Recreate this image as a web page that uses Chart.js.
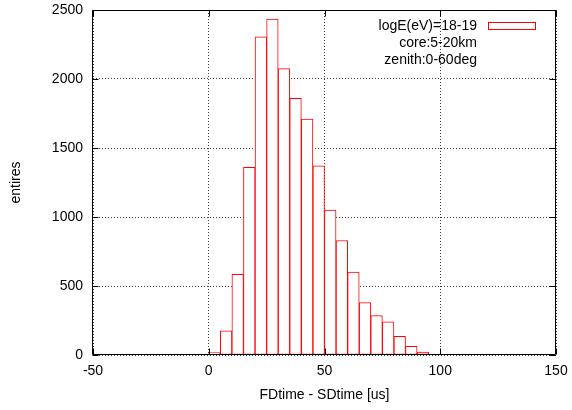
<!DOCTYPE html>
<html>
<head>
<meta charset="utf-8">
<script src="https://cdn.jsdelivr.net/npm/chart.js@4"></script>
<style>
  html, body { margin: 0; padding: 0; background: #fff; }
  canvas { display: block; }
</style>
</head>
<body>
<canvas id="histChart" width="572" height="410"></canvas>
<script>
// Histogram bins: centre of each 5 us wide bin, and the entries in it
const binCenters = [-2.5, 2.5, 7.5, 12.5, 17.5, 22.5, 27.5, 32.5, 37.5, 42.5, 47.5,
                    52.5, 57.5, 62.5, 67.5, 72.5, 77.5, 82.5, 87.5, 92.5, 97.5];
const entries = [5, 17, 175, 585, 1360, 2305, 2435, 2075, 1860, 1710, 1370,
                 1050, 830, 600, 380, 285, 240, 135, 63, 22, 4];

// Axis ticks
const xTicks = [-50, 0, 50, 100, 150];
const yTicks = [0, 500, 1000, 1500, 2000, 2500];

// Key text
const seriesLabel = 'logE(eV)=18-19';
const keyNotes = ['core:5-20km', 'zenith:0-60deg'];

const FONT = { family: '"Liberation Sans", Arial, sans-serif', size: 14 };

// Draw the gnuplot style frame, inward tick marks and the key
const framePlugin = {
    id: 'frame',
    afterDraw(chart) {
        const ctx = chart.ctx;
        const a = chart.chartArea;
        const xs = chart.scales.x;
        const ys = chart.scales.y;
        const L = Math.round(a.left) - 0.5, R = Math.round(a.right) - 0.5;
        const T = Math.round(a.top) + 0.5, B = Math.round(a.bottom) - 0.5;
        const tick = 6;

        ctx.save();
        ctx.strokeStyle = '#000';
        ctx.lineWidth = 1;
        ctx.beginPath();
        ctx.rect(L, T, R - L, B - T);

        xTicks.forEach(v => {
            const px = Math.round(xs.getPixelForValue(v)) + 0.5;
            ctx.moveTo(px, B); ctx.lineTo(px, B - tick);
            ctx.moveTo(px, T); ctx.lineTo(px, T + tick);
        });
        yTicks.forEach(v => {
            const py = Math.round(ys.getPixelForValue(v)) + 0.5;
            ctx.moveTo(L, py); ctx.lineTo(L + tick, py);
            ctx.moveTo(R, py); ctx.lineTo(R - tick, py);
        });
        ctx.stroke();

        // Key: right aligned text with an outlined sample box
        ctx.font = FONT.size + 'px ' + FONT.family;
        ctx.fillStyle = '#000';
        ctx.textAlign = 'right';
        ctx.textBaseline = 'middle';
        const lines = [chart.data.datasets[0].label].concat(keyNotes);
        lines.forEach((t, i) => ctx.fillText(t, 477, 26 + i * 17));

        ctx.strokeStyle = '#ff0000';
        ctx.strokeRect(488.5, 22.5, 47, 7);
        ctx.restore();
    }
};

const ctx = document.getElementById('histChart').getContext('2d');

new Chart(ctx, {
    type: 'bar',
    data: {
        datasets: [{
            label: seriesLabel,
            data: binCenters.map((x, i) => ({ x: x, y: entries[i] })),
            backgroundColor: '#ffffff',
            borderColor: '#ff0000',
            borderWidth: 1,
            borderSkipped: false,
            barPercentage: 1.0,
            categoryPercentage: 1.0
        }]
    },
    options: {
        responsive: false,
        animation: false,
        devicePixelRatio: 1,
        layout: { padding: { top: 10, right: 16, left: 0, bottom: 0 } },
        scales: {
            x: {
                type: 'linear',
                min: -50,
                max: 150,
                offset: false,
                afterBuildTicks: s => { s.ticks = xTicks.map(v => ({ value: v })); },
                afterFit: s => {
                    s.height = 55;
                    s.paddingLeft = 0;
                    s.paddingRight = 0;
                },
                grid: {
                    offset: false,
                    drawTicks: false,
                    color: 'rgba(0,0,0,0.75)',
                    lineWidth: 1
                },
                border: { display: false, dash: [1, 2] },
                ticks: {
                    color: '#000',
                    font: FONT,
                    padding: 8,
                    maxRotation: 0,
                    callback: v => String(v)
                },
                title: {
                    display: true,
                    text: 'FDtime - SDtime [us]',
                    color: '#000',
                    font: FONT,
                    padding: { top: 0, bottom: 6 }
                }
            },
            y: {
                min: 0,
                max: 2500,
                afterBuildTicks: s => { s.ticks = yTicks.map(v => ({ value: v })); },
                afterFit: s => {
                    s.width = 93;
                    s.paddingTop = 0;
                    s.paddingBottom = 0;
                },
                grid: {
                    drawTicks: false,
                    color: 'rgba(0,0,0,0.75)',
                    lineWidth: 1
                },
                border: { display: false, dash: [1, 2] },
                ticks: {
                    color: '#000',
                    font: FONT,
                    padding: 10,
                    callback: v => String(v)
                },
                title: {
                    display: true,
                    text: 'entires',
                    color: '#000',
                    font: FONT,
                    padding: { top: 8, bottom: 0 }
                }
            }
        },
        plugins: {
            legend: { display: false },
            tooltip: { enabled: false }
        }
    },
    plugins: [framePlugin]
});
</script>
</body>
</html>
